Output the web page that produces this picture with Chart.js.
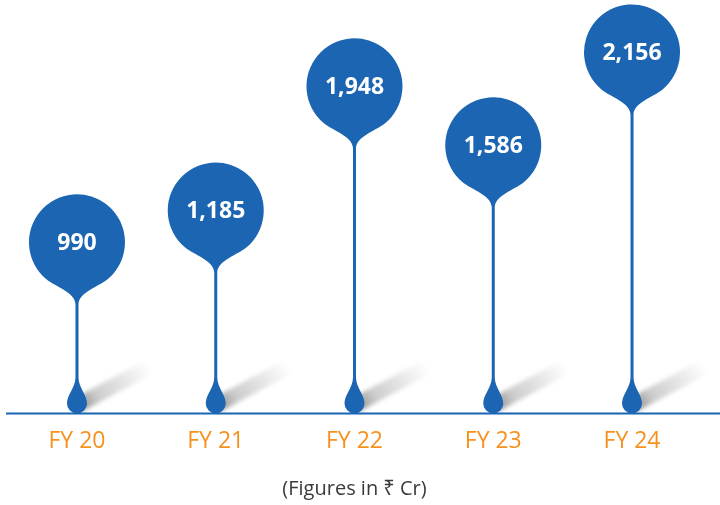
<!DOCTYPE html>
<html>
<head>
<meta charset="utf-8">
<script src="https://cdn.jsdelivr.net/npm/chart.js@4"></script>
<style>
  html, body { margin: 0; padding: 0; background: #fff; }
  #wrap { width: 720px; height: 505px; }
</style>
</head>
<body>
<div id="wrap"><canvas id="pinChart"></canvas></div>
<script>
// Revenue by year (figures in Rs Cr)
var years = ['FY 20', 'FY 21', 'FY 22', 'FY 23', 'FY 24'];
var values = [990, 1185, 1948, 1586, 2156];
var footNote = '(Figures in ₹ Cr)';

var pinBlue = '#1b65b2';

// draws the pin (balloon + stem + drop) on every bar position
var pinPlugin = {
    id: 'pins',
    afterDatasetsDraw: function(chart) {
        var ctx = chart.ctx;
        var meta = chart.getDatasetMeta(0);
        var base = chart.chartArea.bottom;
        var r = 48;

        ctx.save();
        for (var i = 0; i < meta.data.length; i++) {
            var cx = meta.data[i].x;
            var cy = meta.data[i].y;

            // shadow of the drop
            var g = ctx.createLinearGradient(cx, base, cx + 72, base - 48);
            g.addColorStop(0, 'rgba(0,0,0,0.5)');
            g.addColorStop(0.3, 'rgba(0,0,0,0.2)');
            g.addColorStop(1, 'rgba(0,0,0,0)');
            ctx.fillStyle = g;
            ctx.filter = 'blur(2px)';
            ctx.beginPath();
            ctx.moveTo(cx + 3, base - 1);
            ctx.lineTo(cx + 6, base - 20);
            ctx.lineTo(cx + 70, base - 54);
            ctx.lineTo(cx + 76, base - 40);
            ctx.closePath();
            ctx.fill();
            ctx.filter = 'none';

            // pin body
            var a = 40 * Math.PI / 180;
            var sx = r * Math.sin(a), sy = r * Math.cos(a);
            var neck = cy + 62;
            var dropCy = base - 10;
            var dropTop = dropCy - 26;
            ctx.fillStyle = pinBlue;
            ctx.beginPath();
            ctx.moveTo(cx - sx, cy + sy);
            ctx.arc(cx, cy, r, Math.PI / 2 + a, Math.PI / 2 - a, false);
            ctx.bezierCurveTo(cx + 21.7, cy + 44.5, cx + 2, cy + 50, cx + 1.5, neck);
            ctx.lineTo(cx + 1.5, dropTop);
            ctx.bezierCurveTo(cx + 1.5, dropTop + 10, cx + 10, dropCy - 9, cx + 10, dropCy);
            ctx.arc(cx, dropCy, 10, 0, Math.PI, false);
            ctx.bezierCurveTo(cx - 10, dropCy - 9, cx - 1.5, dropTop + 10, cx - 1.5, dropTop);
            ctx.lineTo(cx - 1.5, neck);
            ctx.bezierCurveTo(cx - 2, cy + 50, cx - 21.7, cy + 44.5, cx - sx, cy + sy);
            ctx.closePath();
            ctx.fill();

            // value text
            ctx.fillStyle = '#ffffff';
            ctx.font = 'bold 23px "Open Sans", "Noto Sans", sans-serif';
            ctx.textAlign = 'center';
            ctx.textBaseline = 'middle';
            ctx.fillText(values[i].toLocaleString('en-US'), cx, cy + 1);
        }

        // base line
        ctx.strokeStyle = pinBlue;
        ctx.lineWidth = 2;
        ctx.beginPath();
        ctx.moveTo(6, base);
        ctx.lineTo(chart.width, base);
        ctx.stroke();
        ctx.restore();
    }
};

var ctx = document.getElementById('pinChart');

var pinChart = new Chart(ctx, {
    type: 'bar',
    data: {
        labels: years,
        datasets: [
            {
                data: values,
                backgroundColor: 'rgba(0,0,0,0)',
                borderWidth: 0
            }
        ]
    },
    options: {
        responsive: true,
        maintainAspectRatio: false,
        animation: false,
        layout: {
            padding: { top: 0, left: 7.6, right: 18.6, bottom: 4 }
        },
        plugins: {
            legend: { display: false },
            tooltip: { enabled: false }
        },
        scales: {
            y: {
                display: false,
                min: -61,
                max: 2478
            },
            x: {
                offset: true,
                border: { display: false },
                grid: { display: false, drawTicks: false, tickLength: 0 },
                ticks: {
                    color: '#f5921e',
                    padding: 14,
                    font: { family: '"Open Sans", "Noto Sans", sans-serif', size: 23 }
                },
                title: {
                    display: true,
                    text: footNote,
                    color: '#3a3a3a',
                    padding: { top: 8, bottom: 0 },
                    font: { family: '"Open Sans", "Noto Sans", sans-serif', size: 20 }
                }
            }
        }
    },
    plugins: [pinPlugin]
});
</script>
</body>
</html>
